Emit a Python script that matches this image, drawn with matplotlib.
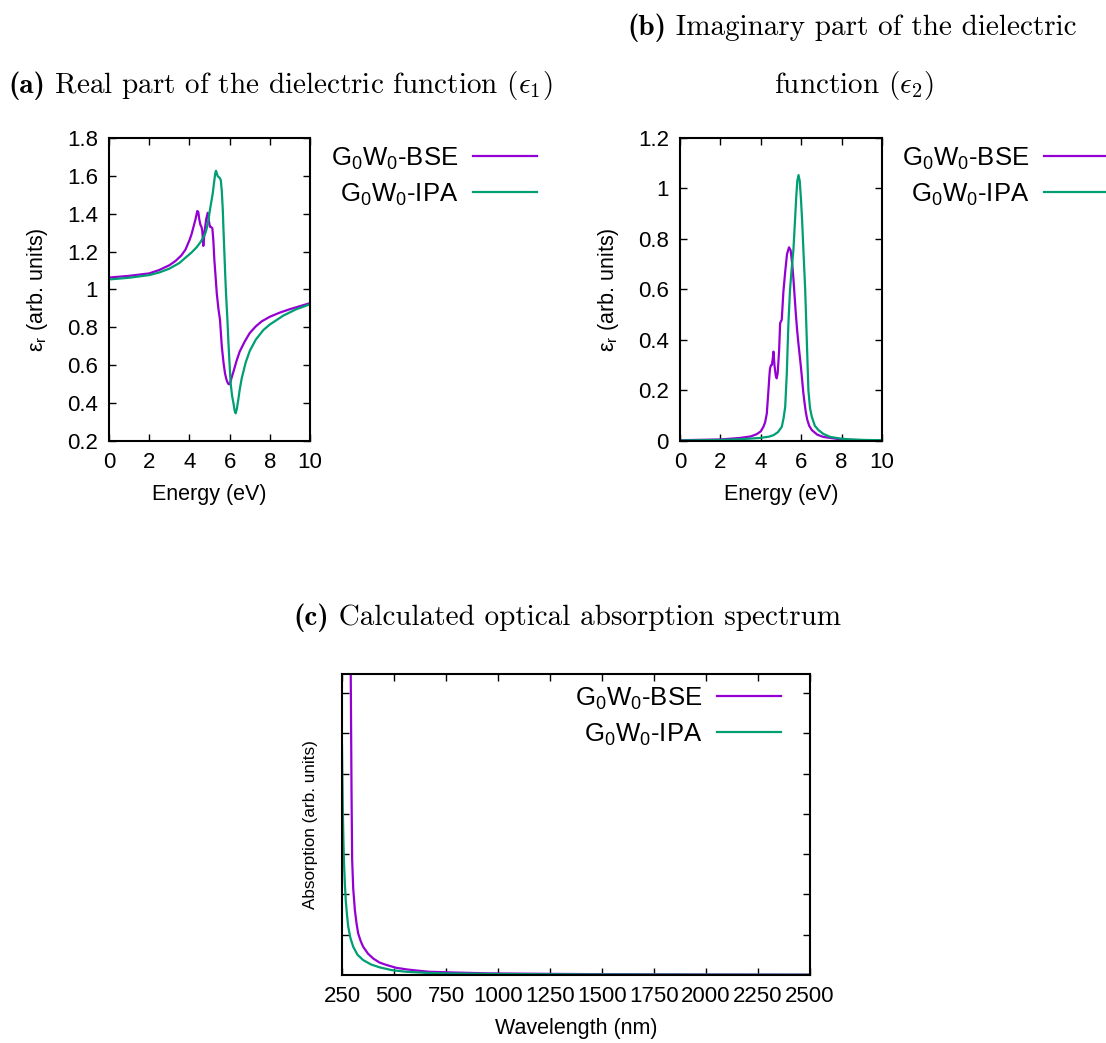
import numpy as np
import matplotlib
matplotlib.use('Agg')
import matplotlib.pyplot as plt

# ---- data ----
# (a) real part, energy in eV
e1_bse_E = np.array([0.0, 1.0, 2.0, 2.5, 3.0, 3.3, 3.6, 3.8, 4.0, 4.1, 4.2, 4.3, 4.39, 4.44,
                     4.49, 4.55, 4.6, 4.64, 4.69, 4.75, 4.83, 4.91, 4.97, 5.02, 5.08, 5.14, 5.19,
                     5.24, 5.30, 5.36, 5.44, 5.52, 5.61, 5.70, 5.77, 5.84, 5.90, 5.95, 5.99,
                     6.04, 6.10, 6.19, 6.35, 6.50, 6.75, 7.0, 7.3, 7.6, 8.0, 8.5, 9.0, 9.5, 10.0])
e1_bse = np.array([1.063, 1.072, 1.085, 1.103, 1.128, 1.15, 1.18, 1.21, 1.26, 1.29, 1.33, 1.37,
                   1.414, 1.41, 1.37, 1.34, 1.33, 1.31, 1.23, 1.30, 1.37, 1.405, 1.36, 1.331,
                   1.33, 1.323, 1.26, 1.156, 1.07, 0.98, 0.90, 0.84, 0.70, 0.61, 0.557, 0.525,
                   0.508, 0.50, 0.50, 0.51, 0.535, 0.566, 0.625, 0.672, 0.725, 0.77, 0.805,
                   0.832, 0.856, 0.878, 0.896, 0.912, 0.928])
e1_ipa_E = np.array([0.0, 1.0, 2.0, 2.5, 3.0, 3.5, 3.86, 4.1, 4.36, 4.55, 4.69, 4.8, 4.86, 4.95,
                     5.02, 5.10, 5.16, 5.22, 5.28, 5.32, 5.36, 5.40, 5.44, 5.50, 5.56, 5.61,
                     5.66, 5.70, 5.74, 5.78, 5.82, 5.89, 5.94, 6.0, 6.05, 6.12, 6.19, 6.25, 6.30,
                     6.36, 6.43, 6.50, 6.60, 6.80, 7.0, 7.3, 7.68, 8.0, 8.67, 9.3, 10.0])
e1_ipa = np.array([1.053, 1.062, 1.076, 1.09, 1.11, 1.14, 1.173, 1.195, 1.223, 1.25, 1.275, 1.30,
                   1.323, 1.37, 1.42, 1.47, 1.508, 1.56, 1.61, 1.627, 1.615, 1.60, 1.595, 1.59,
                   1.578, 1.52, 1.42, 1.30, 1.19, 1.08, 0.98, 0.84, 0.72, 0.60, 0.505, 0.44,
                   0.40, 0.36, 0.346, 0.37, 0.417, 0.47, 0.53, 0.615, 0.675, 0.735, 0.786,
                   0.815, 0.862, 0.895, 0.922])

# (b) imaginary part
e2_bse_E = np.array([0.0, 2.0, 2.97, 3.5, 3.8, 4.0, 4.13, 4.22, 4.30, 4.38, 4.43, 4.46, 4.51,
                     4.55, 4.60, 4.63, 4.68, 4.74, 4.79, 4.84, 4.91, 4.96, 5.04, 5.12, 5.21, 5.30,
                     5.40, 5.48, 5.56, 5.62, 5.68, 5.74, 5.80, 5.86, 5.92, 5.98, 6.04, 6.11,
                     6.17, 6.23, 6.30, 6.40, 6.53, 6.80, 7.10, 8.0, 9.0, 10.0])
e2_bse = np.array([0.003, 0.006, 0.012, 0.018, 0.027, 0.038, 0.056, 0.075, 0.109, 0.20, 0.26,
                   0.288, 0.30, 0.301, 0.33, 0.354, 0.30, 0.26, 0.248, 0.27, 0.36, 0.467, 0.48,
                   0.59, 0.67, 0.74, 0.767, 0.755, 0.70, 0.64, 0.57, 0.50, 0.44, 0.39, 0.345,
                   0.30, 0.25, 0.19, 0.15, 0.115, 0.085, 0.06, 0.043, 0.025, 0.016, 0.006,
                   0.003, 0.002])
e2_ipa_E = np.array([0.0, 2.0, 3.0, 3.97, 4.4, 4.63, 4.85, 5.04, 5.13, 5.21, 5.29, 5.37, 5.45,
                     5.53, 5.62, 5.70, 5.76, 5.81, 5.87, 5.93, 5.99, 6.05, 6.11, 6.20, 6.28,
                     6.36, 6.44, 6.53, 6.68, 6.86, 7.10, 7.44, 8.0, 8.5, 9.2, 10.0])
e2_ipa = np.array([0.002, 0.004, 0.007, 0.012, 0.017, 0.023, 0.035, 0.056, 0.09, 0.135, 0.268,
                   0.467, 0.60, 0.68, 0.76, 0.88, 0.97, 1.03, 1.053, 1.03, 0.96, 0.87, 0.76,
                   0.60, 0.40, 0.20, 0.13, 0.095, 0.06, 0.043, 0.028, 0.016, 0.009, 0.006,
                   0.004, 0.003])

# (c) absorption vs wavelength (nm)
abs_bse_wl = np.array([288, 292, 296, 299, 304, 312, 320, 328, 340, 352, 375, 400, 430, 463, 510,
                       559, 610, 670, 800, 956, 1250, 1500, 2000, 2500])
abs_bse = np.array([10.0, 7.6, 4.5, 2.85, 2.15, 1.61, 1.28, 1.03, 0.84, 0.70, 0.53, 0.41, 0.31,
                    0.25, 0.18, 0.14, 0.11, 0.08, 0.06, 0.04, 0.028, 0.02, 0.012, 0.008])
abs_ipa_wl = np.array([250, 252, 254, 257, 260, 264, 268, 274, 280, 290, 304, 325, 352, 390, 431,
                       490, 559, 650, 750, 1000, 1500, 2000, 2500])
abs_ipa = np.array([5.7, 4.9, 4.1, 3.3, 2.75, 2.25, 1.86, 1.5, 1.2, 0.93, 0.70, 0.5, 0.37, 0.26,
                    0.19, 0.12, 0.08, 0.055, 0.04, 0.025, 0.012, 0.008, 0.006])

lab_bse = r'G$_\mathregular{0}$W$_\mathregular{0}$-BSE'
lab_ipa = r'G$_\mathregular{0}$W$_\mathregular{0}$-IPA'
c_bse = '#9400d3'
c_ipa = '#009e73'

plt.rcParams['font.family'] = ['Liberation Sans', 'DejaVu Sans']
plt.rcParams['axes.linewidth'] = 1.5
tick_fs = 16
label_fs = 15.5
leg_fs = 18.5
lw = 1.6

fig = plt.figure(figsize=(11.06, 10.43), dpi=100)


def style_axes(ax):
    ax.tick_params(direction='in', length=5, width=1, top=True, right=True,
                   labelsize=tick_fs, pad=8)


def add_legend(ax, x, y):
    ax.legend(loc='upper right', bbox_to_anchor=(x, y), bbox_transform=fig.transFigure,
              frameon=False, markerfirst=False, fontsize=leg_fs, handlelength=2.5,
              handletextpad=0.55, labelspacing=0.37, borderpad=0, borderaxespad=0)


# panel (a)
ax1 = fig.add_axes([0.0986, 0.5772, 0.1817, 0.2905])
ax1.plot(e1_bse_E, e1_bse, color=c_bse, lw=lw, label=lab_bse)
ax1.plot(e1_ipa_E, e1_ipa, color=c_ipa, lw=lw, label=lab_ipa)
ax1.set_xlim(0, 10)
ax1.set_ylim(0.2, 1.8)
ax1.set_xticks([0, 2, 4, 6, 8, 10])
ax1.set_yticks([0.2, 0.4, 0.6, 0.8, 1.0, 1.2, 1.4, 1.6, 1.8])
ax1.set_yticklabels(['0.2', '0.4', '0.6', '0.8', '1', '1.2', '1.4', '1.6', '1.8'])
ax1.set_xlabel('Energy (eV)', fontsize=label_fs, labelpad=8)
ax1.set_ylabel(r'ε$_\mathregular{r}$ (arb. units)', fontsize=label_fs, labelpad=12)
style_axes(ax1)
add_legend(ax1, 537 / 1106, 1 - 145 / 1043)

# panel (b)
ax2 = fig.add_axes([0.6148, 0.5772, 0.1826, 0.2905])
ax2.plot(e2_bse_E, e2_bse, color=c_bse, lw=lw, label=lab_bse)
ax2.plot(e2_ipa_E, e2_ipa, color=c_ipa, lw=lw, label=lab_ipa)
ax2.set_xlim(0, 10)
ax2.set_ylim(0, 1.2)
ax2.set_xticks([0, 2, 4, 6, 8, 10])
ax2.set_yticks([0, 0.2, 0.4, 0.6, 0.8, 1.0, 1.2])
ax2.set_yticklabels(['0', '0.2', '0.4', '0.6', '0.8', '1', '1.2'])
ax2.set_xlabel('Energy (eV)', fontsize=label_fs, labelpad=8)
ax2.set_ylabel(r'ε$_\mathregular{r}$ (arb. units)', fontsize=label_fs, labelpad=12)
style_axes(ax2)
add_legend(ax2, 1108 / 1106, 1 - 145 / 1043)

# panel (c)
ax3 = fig.add_axes([0.3092, 0.0652, 0.4231, 0.2886])
ax3.plot(abs_bse_wl, abs_bse, color=c_bse, lw=lw, label=lab_bse)
ax3.plot(abs_ipa_wl, abs_ipa, color=c_ipa, lw=lw, label=lab_ipa)
ax3.set_xlim(250, 2500)
ax3.set_ylim(0, 7.47)
ax3.set_xticks(np.arange(250, 2501, 250))
ax3.set_yticks(np.arange(1, 8))
ax3.set_yticklabels([])
ax3.set_xlabel('Wavelength (nm)', fontsize=label_fs, labelpad=8)
ax3.set_ylabel('Absorption (arb. units)', fontsize=12.3, labelpad=9)
style_axes(ax3)
add_legend(ax3, 781 / 1106, 1 - 685 / 1043)

# captions: bold tag followed by roman text, on a common baseline
cap_fs = 21
renderer = fig.canvas.get_renderer()


def caption(x_px, y_px, tag, body):
    y = 1 - y_px / 1043
    x = x_px / 1106
    if tag:
        t = fig.text(x, y, tag, fontfamily='cmb10', fontsize=cap_fs, ha='left', va='baseline')
        x = t.get_window_extent(renderer).x1 / fig.bbox.width
    fig.text(x, y, body, fontfamily='cmr10', math_fontfamily='cm', fontsize=cap_fs,
             ha='left', va='baseline')


caption(8, 93, '(a)', r' Real part of the dielectric function ($\epsilon_1$)')
caption(627, 35, '(b)', ' Imaginary part of the dielectric')
caption(774, 93, '', r'function ($\epsilon_2$)')
caption(293, 625, '(c)', ' Calculated optical absorption spectrum')

fig.savefig('out.png', dpi=100)
